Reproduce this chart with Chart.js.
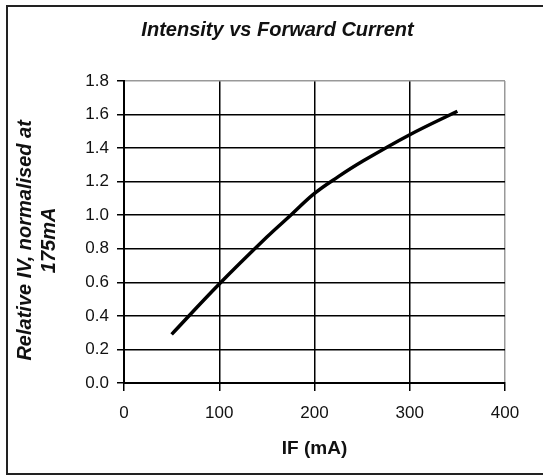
<!DOCTYPE html>
<html>
<head>
<meta charset="utf-8">
<script src="https://cdn.jsdelivr.net/npm/chart.js@4.4.1/dist/chart.umd.min.js"></script>
<style>
  html, body { margin: 0; padding: 0; background: #fff; overflow: hidden; }
  #frame { position: absolute; left: 6px; top: 5px; width: 600px; height: 466px; border: 2px solid #222; z-index: 0; }
  #wrap { position: absolute; left: 0; top: 0; width: 543px; height: 475px; z-index: 1; }
</style>
</head>
<body>
<div id="frame"></div>
<div id="wrap"><canvas id="c" width="543" height="475"></canvas></div>
<script>
const currentMA = [50, 100, 150, 175, 200, 225, 250, 300, 350];
const relativeIV = [0.29, 0.59, 0.87, 1.0, 1.13, 1.23, 1.32, 1.48, 1.62];
const chartTitle = 'Intensity vs Forward Current';
const xTitle = 'IF (mA)';
const yTitle = ['Relative IV, normalised at   ', '175mA   '];

const FONT = "'Liberation Sans', Arial, sans-serif";

const points = currentMA.map((x, i) => ({ x: x, y: relativeIV[i] }));

new Chart(document.getElementById('c'), {
  type: 'line',
  data: {
    datasets: [{
      data: points,
      borderColor: '#000',
      borderWidth: 3.5,
      pointRadius: 0,
      fill: false,
      tension: 0.4
    }]
  },
  options: {
    responsive: false,
    animation: false,
    devicePixelRatio: 1,
    layout: { padding: { left: 12, right: 0, top: 0, bottom: 0 } },
    plugins: {
      legend: { display: false },
      tooltip: { enabled: false },
      title: {
        display: true,
        text: chartTitle,
        color: '#111',
        font: { family: FONT, size: 20, style: 'italic', weight: 'bold', lineHeight: 1.2 },
        padding: { top: 18, bottom: 39 }
      }
    },
    scales: {
      x: {
        type: 'linear',
        min: 0, max: 400,
        ticks: { stepSize: 100, color: '#111', font: { family: FONT, size: 17 }, padding: 12 },
        grid: {
          color: (ctx) => (ctx.tick && ctx.tick.value === 400) ? '#999' : '#000',
          tickColor: '#000',
          lineWidth: 1.5,
          tickLength: 8
        },
        border: { color: '#000', width: 2 },
        title: {
          display: true, text: xTitle, color: '#111',
          font: { family: FONT, size: 19, weight: 'bold', lineHeight: 1.2 },
          padding: { top: 0, bottom: 15 }
        },
        afterFit: (s) => { s.height = 475 - 383; s.paddingRight = 38; }
      },
      y: {
        type: 'linear',
        min: 0, max: 1.8,
        ticks: {
          stepSize: 0.2, color: '#111', font: { family: FONT, size: 17 }, padding: 8,
          callback: (v) => Number(v).toFixed(1)
        },
        grid: {
          color: (ctx) => (ctx.tick && Math.abs(ctx.tick.value - 1.8) < 1e-6) ? '#999' : '#000',
          tickColor: '#000',
          lineWidth: 1.5,
          tickLength: 7
        },
        border: { color: '#000', width: 2 },
        title: {
          display: true, text: yTitle, color: '#111',
          font: { family: FONT, size: 20, style: 'italic', weight: 'bold', lineHeight: 1.22 },
          padding: { top: 1, bottom: 0 }
        },
        afterFit: (s) => { s.width = 124 - 12; }
      }
    }
  }
});
</script>
</body>
</html>
